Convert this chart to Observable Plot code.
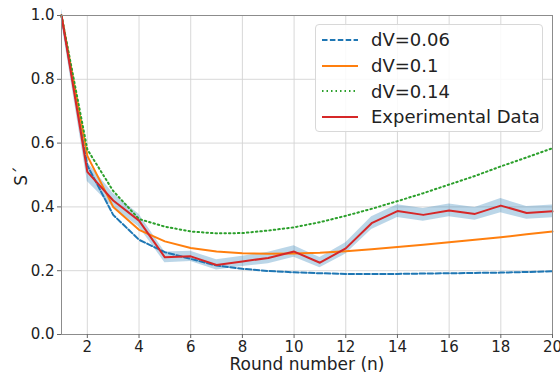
<!DOCTYPE html>
<html>
<head>
<meta charset="utf-8">
<script src="https://cdn.jsdelivr.net/npm/d3@7"></script>
<script src="https://cdn.jsdelivr.net/npm/@observablehq/plot@0.6"></script>
<style>
  html, body { margin: 0; padding: 0; background: #fff; }
  #wrap { position: relative; width: 560px; height: 372px; font-family: "DejaVu Sans", sans-serif; }
  #legend { position: absolute; left: 315px; top: 24px; width: 228px; height: 108px; box-sizing: border-box;
    border: 1px solid #d8d8d8; border-radius: 4px; background: rgba(255,255,255,0.85); padding: 2px 0 0 5px; }
  .item { display: flex; align-items: center; height: 25.7px; font-size: 18px; color: #222; }
  .item svg { margin-right: 12px; }
</style>
</head>
<body>
<div id="wrap"><div id="chart"></div><div id="legend"></div></div>
<script>
const rounds = [1,2,3,4,5,6,7,8,9,10,11,12,13,14,15,16,17,18,19,20];
const dv006 = [1.0,0.53,0.375,0.297,0.258,0.237,0.216,0.206,0.199,0.195,0.192,0.190,0.190,0.190,0.191,0.192,0.193,0.194,0.196,0.198];
const dv01  = [1.0,0.56,0.40,0.328,0.292,0.271,0.260,0.255,0.253,0.254,0.256,0.261,0.267,0.274,0.281,0.289,0.297,0.305,0.314,0.323];
const dv014 = [1.0,0.58,0.45,0.362,0.338,0.323,0.317,0.318,0.326,0.336,0.352,0.372,0.394,0.418,0.443,0.470,0.497,0.527,0.555,0.584];
const expData = [1.0,0.51,0.42,0.357,0.242,0.245,0.218,0.229,0.240,0.260,0.225,0.270,0.349,0.387,0.375,0.389,0.378,0.404,0.381,0.386];
const expErr  = [0.02,0.03,0.022,0.02,0.017,0.016,0.016,0.016,0.018,0.018,0.016,0.018,0.02,0.02,0.02,0.02,0.02,0.022,0.02,0.02];
const seriesNames = ["dV=0.06","dV=0.1","dV=0.14","Experimental Data"];
const seriesColors = ["#1f77b4","#ff7f0e","#2ca02c","#d62728"];
const seriesDash = ["5.5,2.4","none","1.5,3","none"];
const xTicks = [2,4,6,8,10,12,14,16,18,20];
const yTicks = [0,0.2,0.4,0.6,0.8,1.0];
const xLabel = "Round number (n)";
const yLabel = "S´";

const band = rounds.map((r,i) => ({r, lo: expData[i]-expErr[i], hi: expData[i]+expErr[i]}));
const model = [dv006, dv01, dv014, expData].map((arr, k) => arr.map((v,i) => ({r: rounds[i], v, k})));

const chart = Plot.plot({
  width: 560, height: 372,
  marginLeft: 61, marginRight: 8, marginTop: 15, marginBottom: 38,
  style: {fontFamily: "DejaVu Sans, sans-serif", background: "#fff", overflow: "visible"},
  x: {domain: [1,20]},
  y: {domain: [0,1]},
  marks: [
    Plot.gridX(xTicks, {stroke: "#d4d4d4", strokeOpacity: 1, strokeWidth: 0.9}),
    Plot.gridY(yTicks, {stroke: "#d4d4d4", strokeOpacity: 1, strokeWidth: 0.9}),
    Plot.areaY(band, {x: "r", y1: "lo", y2: "hi", fill: "#1f77b4", fillOpacity: 0.3}),
    ...model.map((d,k) => Plot.line(d, {x: "r", y: "v", stroke: seriesColors[k], strokeWidth: 2,
       strokeDasharray: seriesDash[k] === "none" ? null : seriesDash[k]})),
    Plot.frame({stroke: "#8c8c8c", strokeWidth: 1}),
    Plot.axisX(xTicks, {tickSize: 4, tickPadding: 3, fontSize: 15, label: null, tickFormat: d3.format("d"), stroke: "#666", color: "#222"}),
    Plot.axisY(yTicks, {tickSize: 4, tickPadding: 3, fontSize: 15, label: null, tickFormat: d3.format(".1f"), stroke: "#666", color: "#222"}),
    Plot.text([xLabel], {frameAnchor: "bottom", textAnchor: "middle", lineAnchor: "bottom", dy: 35, fontSize: 17, fill: "#222"}),
    Plot.text([yLabel], {frameAnchor: "left", textAnchor: "middle", lineAnchor: "middle", dx: -40, dy: 1, rotate: -90, fontSize: 17, fill: "#222"})
  ]
});
document.getElementById("chart").appendChild(chart);

const legend = document.getElementById("legend");
seriesNames.forEach((name, k) => {
  const item = document.createElement("div");
  item.className = "item";
  const dash = seriesDash[k] === "none" ? "" : `stroke-dasharray="${seriesDash[k]}"`;
  item.innerHTML = `<svg width="38" height="10"><line x1="1" y1="5" x2="37" y2="5" stroke="${seriesColors[k]}" stroke-width="2" ${dash}/></svg><span>${name}</span>`;
  legend.appendChild(item);
});
</script>
</body>
</html>
